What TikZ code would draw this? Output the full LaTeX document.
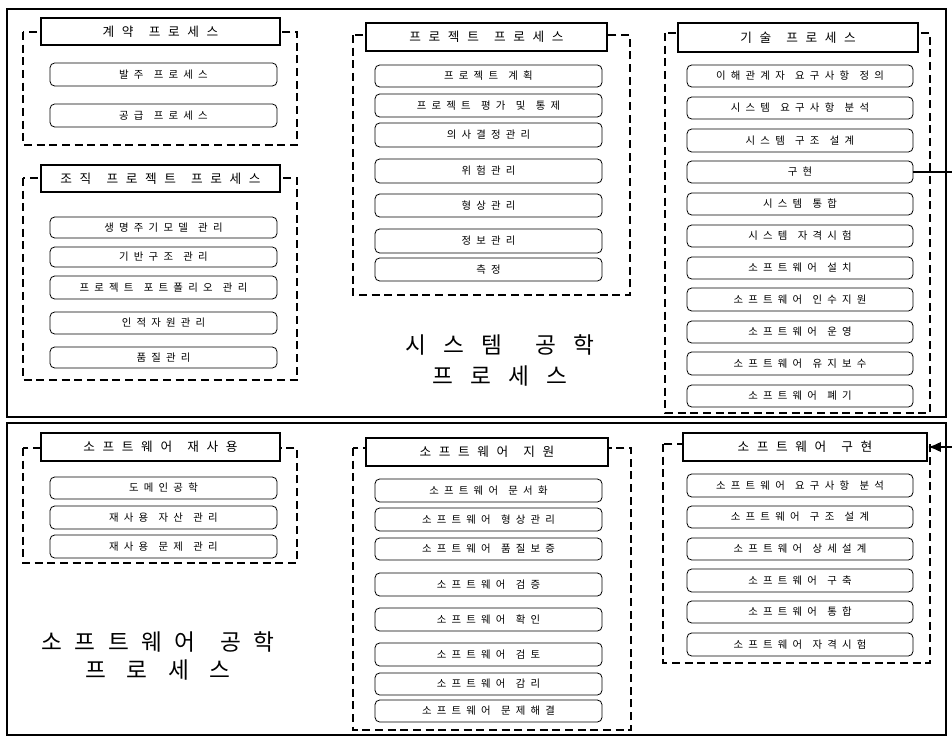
\documentclass[tikz,border=0pt]{standalone}
\usepackage{fontspec}
\newfontfamily\kr{Noto Sans CJK KR}
\usetikzlibrary{arrows.meta}
\tikzset{
  boxtext/.style={font={\kr\fontsize{7.8pt}{9pt}\selectfont\spaceskip=.5em\relax}},
  headtext/.style={font={\kr\fontsize{9.5pt}{11pt}\selectfont\spaceskip=.6em\relax}},
  rb/.style={draw, rounded corners=3.5pt, line width=0.6pt, inner sep=0pt, fill=white, boxtext},
  hd/.style={draw, line width=0.9pt, inner sep=0pt, fill=white, headtext},
  grp/.style={draw, dashed, dash pattern=on 6pt off 3.5pt, line width=1pt},
  frame/.style={draw, line width=0.8pt},
  bigtext/.style={font={\kr\fontsize{17pt}{20pt}\selectfont\spaceskip=.75em\relax}, inner sep=0pt},
  conn/.style={line width=2pt},
}
\newcommand\rbx[6]{\node[rb, minimum width={(#4-#2)*0.75pt}, minimum height={(#5-#3)*0.75pt}] (#1) at ({(#2+#4)/2},{(#3+#5)/2}) {#6};}
\newcommand\hbx[6]{\node[hd, minimum width={(#4-#2)*0.75pt}, minimum height={(#5-#3)*0.75pt}] (#1) at ({(#2+#4)/2},{(#3+#5)/2}) {#6};}
\begin{document}
\begin{tikzpicture}[x=0.75pt, y=-0.75pt]
\useasboundingbox (0,0) rectangle (952,741);
% outer frames
\draw[frame] (7,9) rectangle (946,417);
\draw[frame] (7,423) rectangle (946,735);
% dashed groups
\draw[grp] (23,32) rectangle (297,145);
\draw[grp] (23,178) rectangle (297,380);
\draw[grp] (353,35) rectangle (630,295);
\draw[grp] (665,33) rectangle (930,413);
\draw[grp] (23,448) rectangle (297,563);
\draw[grp] (353,448) rectangle (631,730);
\draw[grp] (663,444) rectangle (930,663);
% group A
\hbx{hA}{41}{18}{280}{45}{계 약~~프 로 세 스}
\rbx{a1}{50}{63}{277}{86}{발 주~~프 로 세 스}
\rbx{a2}{50}{104}{277}{127}{공 급~~프 로 세 스}
% group B
\hbx{hB}{41}{165}{280}{192}{조 직~~프 로 젝 트~~프 로 세 스}
\rbx{b1}{50}{217}{277}{238}{생 명 주 기 모 델~~관 리}
\rbx{b2}{50}{247}{277}{267}{기 반 구 조~~관 리}
\rbx{b3}{50}{276}{277}{299}{프 로 젝 트~~포 트 폴 리 오~~관 리}
\rbx{b4}{50}{312}{277}{334}{인 적 자 원 관 리}
\rbx{b5}{50}{347}{277}{368}{품 질 관 리}
% group C
\hbx{hC}{366}{23}{607}{51}{프 로 젝 트~~프 로 세 스}
\rbx{c1}{375}{65}{602}{87}{프 로 젝 트~~계 획}
\rbx{c2}{375}{94}{602}{117}{프 로 젝 트~~평 가~~및~~통 제}
\rbx{c3}{375}{123}{602}{147}{의 사 결 정 관 리}
\rbx{c4}{375}{159}{602}{183}{위 험 관 리}
\rbx{c5}{375}{194}{602}{217}{형 상 관 리}
\rbx{c6}{375}{229}{602}{253}{정 보 관 리}
\rbx{c7}{375}{258}{602}{281}{측 정}
% group D
\hbx{hD}{678}{23}{918}{52}{기 술~~프 로 세 스}
\rbx{d1}{687}{65}{913}{87}{이 해 관 계 자~~요 구 사 항~~정 의}
\rbx{d2}{687}{97}{913}{119}{시 스 템~~요 구 사 항~~분 석}
\rbx{d3}{687}{129}{913}{152}{시 스 템~~구 조~~설 계}
\rbx{d4}{687}{161}{913}{183}{구 현}
\rbx{d5}{687}{193}{913}{215}{시 스 템~~통 합}
\rbx{d6}{687}{225}{913}{247}{시 스 템~~자 격 시 험}
\rbx{d7}{687}{257}{913}{279}{소 프 트 웨 어~~설 치}
\rbx{d8}{687}{288}{913}{311}{소 프 트 웨 어~~인 수 지 원}
\rbx{d9}{687}{321}{913}{343}{소 프 트 웨 어~~운 영}
\rbx{d10}{687}{352}{913}{375}{소 프 트 웨 어~~유 지 보 수}
\rbx{d11}{687}{385}{913}{407}{소 프 트 웨 어~~폐 기}
% group E
\hbx{hE}{41}{433}{280}{461}{소 프 트 웨 어~~재 사 용}
\rbx{e1}{50}{477}{277}{499}{도 메 인 공 학}
\rbx{e2}{50}{506}{277}{529}{재 사 용~~자 산~~관 리}
\rbx{e3}{50}{535}{277}{558}{재 사 용~~문 제~~관 리}
% group F
\hbx{hF}{366}{438}{608}{466}{소 프 트 웨 어~~지 원}
\rbx{f1}{375}{479}{602}{502}{소 프 트 웨 어~~문 서 화}
\rbx{f2}{375}{508}{602}{531}{소 프 트 웨 어~~형 상 관 리}
\rbx{f3}{375}{538}{602}{560}{소 프 트 웨 어~~품 질 보 증}
\rbx{f4}{375}{573}{602}{596}{소 프 트 웨 어~~검 증}
\rbx{f5}{375}{608}{602}{631}{소 프 트 웨 어~~확 인}
\rbx{f6}{375}{643}{602}{666}{소 프 트 웨 어~~검 토}
\rbx{f7}{375}{673}{602}{695}{소 프 트 웨 어~~감 리}
\rbx{f8}{375}{700}{602}{722}{소 프 트 웨 어~~문 제 해 결}
% group G
\hbx{hG}{683}{433}{927}{461}{소 프 트 웨 어~~구 현}
\rbx{g1}{687}{474}{913}{497}{소 프 트 웨 어~~요 구 사 항~~분 석}
\rbx{g2}{687}{506}{913}{528}{소 프 트 웨 어~~구 조~~설 계}
\rbx{g3}{687}{538}{913}{560}{소 프 트 웨 어~~상 세 설 계}
\rbx{g4}{687}{569}{913}{592}{소 프 트 웨 어~~구 축}
\rbx{g5}{687}{601}{913}{623}{소 프 트 웨 어~~통 합}
\rbx{g6}{687}{633}{913}{656}{소 프 트 웨 어~~자 격 시 험}
% big titles
\node[bigtext] (sys1) at (500,345) {시 스 템~~공 학};
\node[bigtext] (sys2) at (500,376) {프 로 세 스};
\node[bigtext, font={\kr\fontsize{17pt}{20pt}\selectfont\spaceskip=.55em\relax}] (sw1) at (158,642) {소 프 트 웨 어~~공 학};
\node[bigtext, font={\kr\fontsize{17pt}{20pt}\selectfont\spaceskip=.9em\relax}] (sw2) at (158,670) {프 로 세 스};
% connector
\coordinate (rt) at (957,0);
\draw[conn, -{Latex[length=10pt, width=8pt]}] (d4.east) -- (d4.east -| rt) -- (hG.east -| rt) -- (hG.east);
\end{tikzpicture}
\end{document}
